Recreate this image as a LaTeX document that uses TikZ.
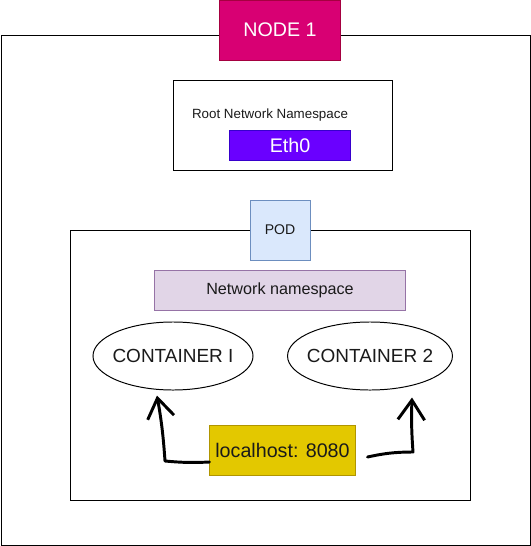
\documentclass[tikz,border=0pt]{standalone}
\usepackage{fontspec}
\setmainfont{Liberation Sans}
\usetikzlibrary{arrows.meta,shapes.geometric}
\definecolor{nodepink}{HTML}{D80073}
\definecolor{nodepinkline}{HTML}{A50040}
\definecolor{ethviolet}{HTML}{6A00FF}
\definecolor{ethvioletline}{HTML}{3700CC}
\definecolor{podblue}{HTML}{DAE8FC}
\definecolor{podblueline}{HTML}{6C8EBF}
\definecolor{nslilac}{HTML}{E1D5E7}
\definecolor{nslilacline}{HTML}{9673A6}
\definecolor{hostyellow}{HTML}{E3C800}
\definecolor{hostyellowline}{HTML}{B09500}
\definecolor{txt}{HTML}{1A1A1A}
\begin{document}
\begin{tikzpicture}[x=0.025cm, y=-0.025cm,
    frame/.style={draw=black, line width=0.7pt},
    label/.style={draw, line width=0.7pt, inner sep=0pt, align=center},
    container/.style={ellipse, draw, line width=0.7pt, inner xsep=-0.12cm, inner ysep=0pt,
        text=txt, font=\fontsize{13.5}{15}\selectfont, minimum width=4cm, minimum height=1.7cm},
    sketch/.style={line width=2.1pt, line cap=round, line join=round,
        -{Straight Barb[length=14pt,width=19pt,line width=2.1pt]}}]
    \useasboundingbox (0,0) rectangle (531,546);
    % outer node and pod frames
    \draw[frame] (1,35) rectangle (530,545);
    \draw[frame] (173,80) rectangle (392,170);
    \draw[frame] (70,230) rectangle (470,500);
    % labels
    \node[label, fill=nodepink, draw=nodepinkline, text=white, font=\fontsize{14}{16}\selectfont,
        minimum width=3cm, minimum height=1.5cm] (node1) at (280,30) {NODE 1};
    \node[txt, font=\fontsize{9.5}{11}\selectfont] (rootns) at (270,115) {Root Network Namespace};
    \node[label, fill=ethviolet, draw=ethvioletline, text=white, font=\fontsize{14}{16}\selectfont,
        minimum width=3cm, minimum height=0.75cm] (eth0) at (290,145) {Eth0};
    \node[label, fill=podblue, draw=podblueline, text=txt, font=\fontsize{10}{12}\selectfont,
        minimum width=1.5cm, minimum height=1.5cm] (pod) at (280,230) {POD};
    \node[label, fill=nslilac, draw=nslilacline, text=txt, font=\fontsize{11.5}{13}\selectfont,
        minimum width=6.25cm, minimum height=1cm] (netns) at (280,290) {Network namespace};
    \node[container] (c1) at (173,356) {CONTAINER I};
    \node[container] (c2) at (370,356) {CONTAINER 2};
    \node[label, fill=hostyellow, draw=hostyellowline, text=txt, font=\fontsize{14}{16}\selectfont,
        minimum width=3.625cm, minimum height=1.25cm] (loc) at (282.5,450) {localhost: 8080};
    % hand drawn arrows
    \draw[sketch] ([yshift=-0.3cm]loc.west) to[bend left=4] (165,461)
        to[bend right=3] ([xshift=-0.4cm,yshift=-0.125cm]c1.south);
    \draw[sketch] ([xshift=0.3cm,yshift=-0.175cm]loc.east) to[bend left=6] (413,452)
        to[bend left=3] ([xshift=1.05cm,yshift=-0.175cm]c2.south);
\end{tikzpicture}
\end{document}
